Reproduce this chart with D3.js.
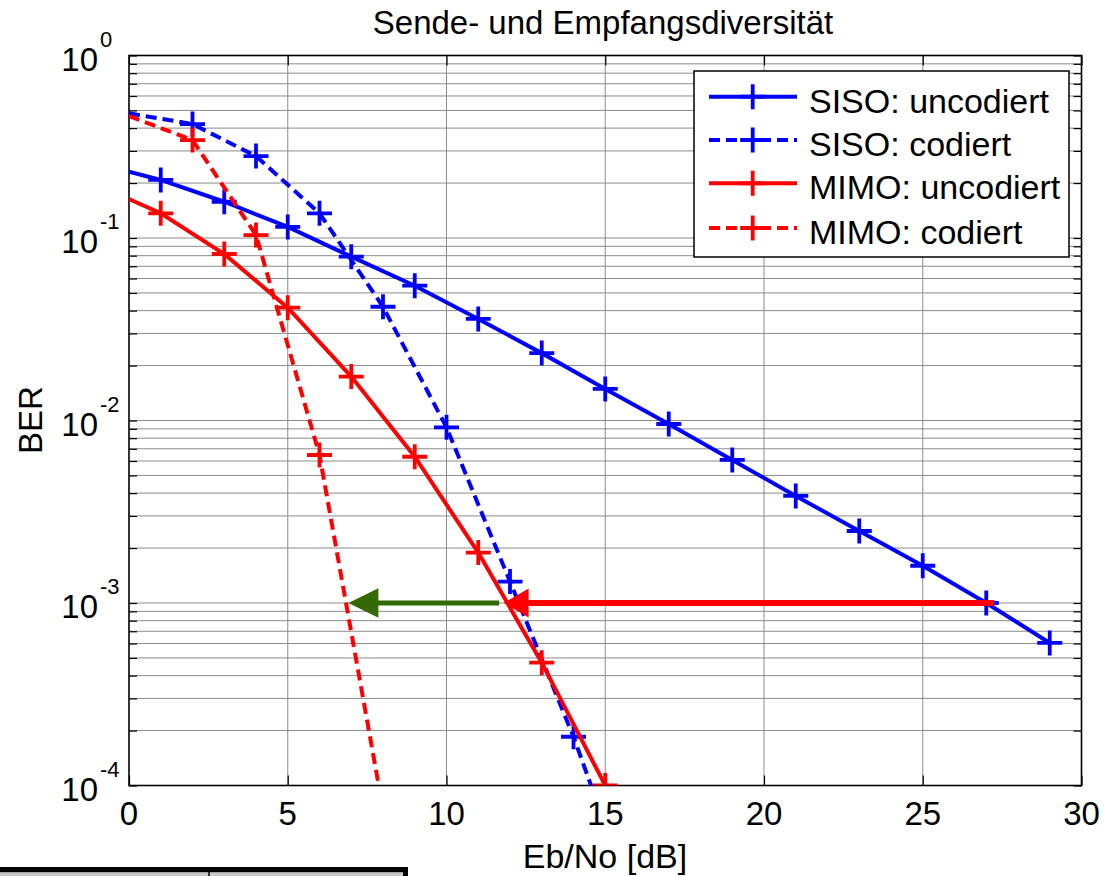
<!DOCTYPE html>
<html>
<head>
<meta charset="utf-8">
<script src="https://cdn.jsdelivr.net/npm/d3@7"></script>
<style>
  body { margin: 0; background: #fff; }
  text { font-family: Arial, "Liberation Sans", sans-serif; fill: #000; }
</style>
</head>
<body>
<svg id="chart" width="1114" height="876"></svg>
<script>
// values (first point of each curve is only the line start, no marker)
const ebnoSisoUnc = [0, 1, 3, 5, 7, 9, 11, 13, 15, 17, 19, 21, 23, 25, 27, 29];
const berSisoUnc  = [0.231, 0.208, 0.158, 0.115, 0.079, 0.0548, 0.036, 0.0234, 0.0149,
                     0.00957, 0.00608, 0.00386, 0.00248, 0.0016, 0.001, 0.000604];

const ebnoSisoCod = [0, 2, 4, 6, 8, 10, 12, 14, 16];
const berSisoCod  = [0.482, 0.421, 0.281, 0.1366, 0.042, 0.00918, 0.00131, 0.000185, 0.00002];

const ebnoMimoUnc = [0, 1, 3, 5, 7, 9, 11, 13, 15];
const berMimoUnc  = [0.1636, 0.1366, 0.0817, 0.0415, 0.0174, 0.00633, 0.00189, 0.000471, 0.0001];

const ebnoMimoCod = [0, 2, 4, 6, 8];
const berMimoCod  = [0.466, 0.344, 0.1038, 0.00647, 0.000074];

const seriesNames = ["SISO: uncodiert", "SISO: codiert", "MIMO: uncodiert", "MIMO: codiert"];

const xTicks = [0, 5, 10, 15, 20, 25, 30];
const yDecades = [-4, -3, -2, -1, 0];

// arrows: [start Eb/No, end Eb/No] at BER 1e-3
const arrowBer = 1e-3;
const redArrow = [27.25, 11.8];
const greenArrow = [11.66, 6.91];

const svg = d3.select("#chart");
svg.append("rect").attr("width", 1114).attr("height", 876).attr("fill", "#fff");

const pLeft = 129, pRight = 1081.5, pTop = 55.5, pBottom = 785.5;
const x = d3.scaleLinear().domain([0, 30]).range([pLeft, pRight]);
const y = d3.scaleLog().domain([1e-4, 1]).range([pBottom, pTop]);

const series = [
  { name: seriesNames[0], xs: ebnoSisoUnc, ys: berSisoUnc, color: "#0000ff", dash: null },
  { name: seriesNames[1], xs: ebnoSisoCod, ys: berSisoCod, color: "#0000ff", dash: "11,6" },
  { name: seriesNames[2], xs: ebnoMimoUnc, ys: berMimoUnc, color: "#ff0000", dash: null },
  { name: seriesNames[3], xs: ebnoMimoCod, ys: berMimoCod, color: "#ff0000", dash: "11,6" }
];

// minor + major y values
let yGrid = [];
yDecades.forEach(e => {
  yGrid.push(Math.pow(10, e));
  if (e < 0) for (let k = 2; k <= 9; k++) yGrid.push(k * Math.pow(10, e));
});

// grid
const grid = svg.append("g").attr("stroke", "#8c8c8c").attr("stroke-width", 1);
grid.selectAll("line.h").data(yGrid).join("line")
  .attr("x1", pLeft).attr("x2", pRight)
  .attr("y1", d => y(d)).attr("y2", d => y(d));
grid.selectAll("line.v").data(xTicks.slice(1, -1)).join("line")
  .attr("x1", d => x(d)).attr("x2", d => x(d))
  .attr("y1", pTop).attr("y2", pBottom);

// axes with inward ticks
const axB = svg.append("g").attr("transform", `translate(0,${pBottom})`)
  .call(d3.axisBottom(x).tickValues(xTicks).tickSize(-10).tickFormat(""));
const axT = svg.append("g").attr("transform", `translate(0,${pTop})`)
  .call(d3.axisTop(x).tickValues(xTicks).tickSize(-10).tickFormat(""));
const axL = svg.append("g").attr("transform", `translate(${pLeft},0)`)
  .call(d3.axisLeft(y).tickValues(yGrid).tickSize(-8).tickFormat(""));
const axR = svg.append("g").attr("transform", `translate(${pRight},0)`)
  .call(d3.axisRight(y).tickValues(yGrid).tickSize(-8).tickFormat(""));
[axB, axT, axL, axR].forEach(a => {
  a.select(".domain").remove();
  a.selectAll(".tick line").attr("stroke", "#000").attr("stroke-width", 1.2);
});
svg.append("rect").attr("x", pLeft).attr("y", pTop)
  .attr("width", pRight - pLeft).attr("height", pBottom - pTop)
  .attr("fill", "none").attr("stroke", "#000").attr("stroke-width", 1.6);

// tick labels
svg.append("g").selectAll("text").data(xTicks).join("text")
  .attr("x", d => x(d)).attr("y", 825)
  .attr("text-anchor", "middle").attr("font-size", 33)
  .text(d => d);

const yl = svg.append("g").selectAll("g").data(yDecades).join("g");
yl.append("text")
  .attr("x", 98).attr("y", d => y(Math.pow(10, d)) + 15)
  .attr("text-anchor", "end").attr("font-size", 33).text("10");
yl.append("text")
  .attr("x", 100).attr("y", d => y(Math.pow(10, d)) - 9)
  .attr("font-size", 22).text(d => d);

// title and axis labels
svg.append("text").attr("x", 603).attr("y", 34).attr("text-anchor", "middle")
  .attr("font-size", 33).text("Sende- und Empfangsdiversität");
svg.append("text").attr("x", 605).attr("y", 868).attr("text-anchor", "middle")
  .attr("font-size", 34).text("Eb/No [dB]");
svg.append("text").attr("transform", "translate(42,420) rotate(-90)")
  .attr("text-anchor", "middle").attr("font-size", 33).text("BER");

// curves
svg.append("clipPath").attr("id", "plotclip").append("rect")
  .attr("x", pLeft).attr("y", pTop).attr("width", pRight - pLeft).attr("height", pBottom - pTop);
const plot = svg.append("g").attr("clip-path", "url(#plotclip)");

const line = d3.line().x(d => x(d[0])).y(d => y(d[1]));
const plusPath = "M-12.5,0H12.5M0,-12.5V12.5";

series.forEach(s => {
  const pts = s.xs.map((v, i) => [v, s.ys[i]]);
  plot.append("path").datum(pts).attr("d", line)
    .attr("fill", "none").attr("stroke", s.color).attr("stroke-width", 4)
    .attr("stroke-dasharray", s.dash);
  plot.selectAll(null).data(pts.slice(1)).join("path")
    .attr("transform", d => `translate(${x(d[0])},${y(d[1])})`)
    .attr("d", plusPath).attr("stroke", s.color).attr("stroke-width", 3.8).attr("fill", "none");
});

// arrows
function arrow(g, span, color, width, len, half) {
  const ya = y(arrowBer), xs = x(span[0]), xt = x(span[1]);
  g.append("line").attr("x1", xs).attr("x2", xt + len - 2).attr("y1", ya).attr("y2", ya)
    .attr("stroke", color).attr("stroke-width", width);
  g.append("path")
    .attr("d", `M${xt},${ya}L${xt + len},${ya - half}L${xt + len},${ya + half}Z`)
    .attr("fill", color);
}
arrow(svg, greenArrow, "#346a06", 5, 30, 14.7);
arrow(svg, redArrow, "#ff0000", 6, 25, 14.5);

// legend
const lg = svg.append("g");
lg.append("rect").attr("x", 694).attr("y", 71).attr("width", 375).attr("height", 186)
  .attr("fill", "#fff").attr("stroke", "#000").attr("stroke-width", 1.5);
const rowY = [96.7, 140, 183.3, 228];
series.forEach((s, i) => {
  lg.append("line").attr("x1", 709).attr("x2", 797).attr("y1", rowY[i]).attr("y2", rowY[i])
    .attr("stroke", s.color).attr("stroke-width", 4).attr("stroke-dasharray", s.dash);
  lg.append("path").attr("transform", `translate(752.7,${rowY[i]})`).attr("d", plusPath)
    .attr("stroke", s.color).attr("stroke-width", 3.8);
  lg.append("text").attr("x", 809).attr("y", rowY[i] + 16).attr("font-size", 34).text(s.name);
});

// cropped table edge at the bottom left
const edge = svg.append("g");
edge.append("rect").attr("x", 0).attr("y", 867).attr("width", 407).attr("height", 5.5).attr("fill", "#000");
edge.append("rect").attr("x", 0).attr("y", 872.5).attr("width", 407).attr("height", 3.5).attr("fill", "#c8c8c8");
edge.append("line").attr("x1", 209).attr("x2", 209).attr("y1", 872).attr("y2", 876)
  .attr("stroke", "#000").attr("stroke-width", 1.5);
edge.append("rect").attr("x", 403).attr("y", 867).attr("width", 5).attr("height", 9).attr("fill", "#000");
</script>
</body>
</html>
